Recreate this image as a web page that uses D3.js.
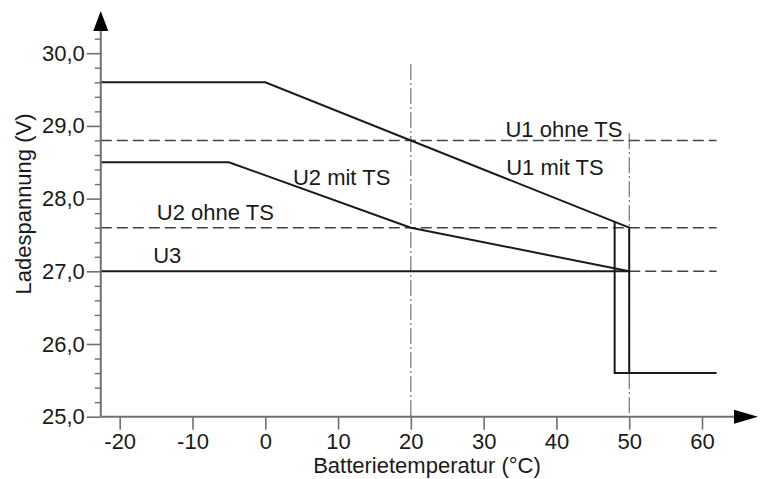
<!DOCTYPE html>
<html><head><meta charset="utf-8">
<script src="https://cdn.jsdelivr.net/npm/d3@7"></script>
<style>
html,body{margin:0;padding:0;background:#fff;}
text{font-family:"Liberation Sans",Arial,sans-serif;fill:#1a1a1a;}
</style></head>
<body><svg id="c" width="763" height="479"></svg>
<script>
// ---- data ----
const xTicks = [-20, -10, 0, 10, 20, 30, 40, 50, 60];
const yTicks = [25, 26, 27, 28, 29, 30];
const yMinorTicks = [25.2,25.4,25.6,25.8,26.2,26.4,26.6,26.8,27.2,27.4,27.6,27.8,28.2,28.4,28.6,28.8,29.2,29.4,29.6,29.8,30.2];
const xStart = -22.6, xEnd = 62;
const u1MitTS = [[xStart,29.6],[0,29.6],[50,27.6],[50,25.6]];
const u1Cut   = [[48,27.68],[48,25.6],[62,25.6]];
const u2MitTS = [[xStart,28.5],[-5,28.5],[20,27.6],[50,27.0]];
const u3Solid = [[xStart,27.0],[50,27.0]];
const u3Dash  = [[50,27.0],[62,27.0]];
const u1OhneTS = [[xStart,28.8],[62,28.8]];
const u2OhneTS = [[xStart,27.6],[62,27.6]];
const refLines = [[20,29.85],[50,28.9]];   // temperature, top voltage
const labels = [
  {t:"U1 ohne TS", x:33.0, y:28.8},
  {t:"U1 mit TS",  x:33.1, y:28.28},
  {t:"U2 mit TS",  x:3.8,  y:28.15},
  {t:"U2 ohne TS", x:-14.9,y:27.66},
  {t:"U3",         x:-15.4,y:27.07}
];
const xLabel = "Batterietemperatur (°C)";
const yLabel = "Ladespannung (V)";

// ---- chart ----
const FS = 22;
const svg = d3.select("#c");
const x = d3.scaleLinear().domain([-20,60]).range([119.7,702]);
const y = d3.scaleLinear().domain([25,30]).range([416.7,53.2]);
const x0 = x(xStart), y0 = y(25);
const line = d3.line().x(d=>x(d[0])).y(d=>y(d[1]));

// reference dash-dot lines
svg.selectAll(".ref").data(refLines).enter().append("line")
  .attr("x1",d=>x(d[0])).attr("x2",d=>x(d[0]))
  .attr("y1",d=>y(d[1])).attr("y2",y0)
  .attr("stroke","#555").attr("stroke-width",1)
  .attr("stroke-dasharray","16,3,2,3");

// dashed lines
[u1OhneTS,u2OhneTS,u3Dash].forEach(d=>{
  svg.append("path").attr("d",line(d)).attr("fill","none")
    .attr("stroke","#444").attr("stroke-width",1.6)
    .attr("stroke-dasharray","11,5");
});
// solid lines
[u1MitTS,u1Cut,u2MitTS,u3Solid].forEach(d=>{
  svg.append("path").attr("d",line(d)).attr("fill","none")
    .attr("stroke","#1a1a1a").attr("stroke-width",2)
    .attr("stroke-linejoin","miter");
});

// axes
const axCol = "#707070";
const xAxis = d3.axisBottom(x).tickValues(xTicks).tickSize(13).tickPadding(4)
  .tickFormat(d=>String(d));
const gx = svg.append("g").attr("transform",`translate(0,${y0})`).call(xAxis);
gx.select(".domain").remove();
gx.selectAll("line").attr("stroke",axCol).attr("stroke-width",1.6);
gx.selectAll("text").attr("font-size",FS).attr("fill","#1a1a1a")
  .attr("font-family","Liberation Sans, Arial, sans-serif");

const yAxis = d3.axisLeft(y).tickValues(yTicks).tickSize(14).tickPadding(2)
  .tickFormat(d=>d3.format(".1f")(d).replace(".",","));
const gy = svg.append("g").attr("transform",`translate(${x0},0)`).call(yAxis);
gy.select(".domain").remove();
gy.selectAll("line").attr("stroke",axCol).attr("stroke-width",1.6);
gy.selectAll("text").attr("font-size",FS).attr("fill","#1a1a1a")
  .attr("font-family","Liberation Sans, Arial, sans-serif");

const yMinor = d3.axisLeft(y).tickValues(yMinorTicks).tickSize(6).tickFormat("");
const gym = svg.append("g").attr("transform",`translate(${x0},0)`).call(yMinor);
gym.select(".domain").remove();
gym.selectAll("line").attr("stroke",axCol).attr("stroke-width",1.4);

// axis lines with arrows
svg.append("line").attr("x1",x0).attr("x2",x0).attr("y1",y0).attr("y2",30)
  .attr("stroke",axCol).attr("stroke-width",2);
svg.append("line").attr("x1",x0).attr("x2",736).attr("y1",y0).attr("y2",y0)
  .attr("stroke",axCol).attr("stroke-width",2);
svg.append("path").attr("d",`M${x0},11 L${x0-7.5},31 L${x0+7.5},31 Z`).attr("fill","#000");
svg.append("path").attr("d",`M758,${y0} L734,${y0-7} L734,${y0+7} Z`).attr("fill","#000");

// labels
svg.selectAll(".lab").data(labels).enter().append("text")
  .attr("x",d=>x(d.x)).attr("y",d=>y(d.y)-3)
  .attr("font-size",FS).text(d=>d.t);

svg.append("text").attr("x",427).attr("y",473).attr("text-anchor","middle")
  .attr("font-size",FS).text(xLabel);
svg.append("text").attr("transform","translate(31,204) rotate(-90)")
  .attr("text-anchor","middle").attr("font-size",FS).text(yLabel);
</script></body></html>
